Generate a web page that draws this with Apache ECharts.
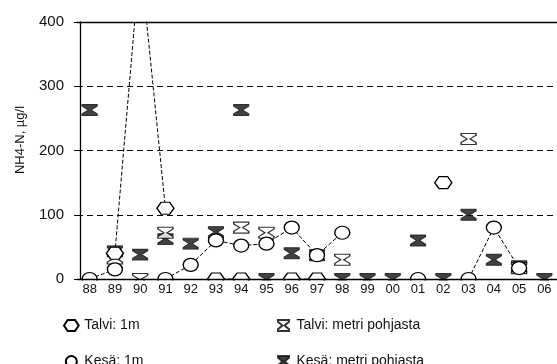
<!DOCTYPE html>
<html><head><meta charset="utf-8">
<script src="https://cdn.jsdelivr.net/npm/echarts@6/dist/echarts.min.js"></script>
<style>html,body{margin:0;padding:0;background:#fff}#c{width:557px;height:364px}</style>
</head><body><div id="c"></div>
<script>
// ---- data ----
const years = ['88','89','90','91','92','93','94','95','96','97','98','99','00','01','02','03','04','05','06'];
const yTicks = [0, 100, 200, 300, 400];
const talvi1m      = [null, 40, 500, 110, null, 0, 0, null, 0, 0, null, null, null, null, 150, null, null, null, null];
const kesa1m       = [0, 15, null, 0, 22, 60, 52, 55, 80, 37, 72, null, null, 0, null, 0, 80, 17, null];
const talviPohja   = [null, 32, 0, 72, null, null, 80, 72, null, null, 30, null, null, null, null, 218, null, 17, null];
const kesaPohja    = [263, 43, 38, 62, 55, 73, 263, 0, 40, 37, 0, 0, 0, 60, 0, 100, 30, 20, 0];
const names = ['Talvi: 1m', 'Kesä: 1m', 'Talvi: metri pohjasta', 'Kesä: metri pohjasta'];
const yName = 'NH4-N, µg/l';

// ---- styling ----
const HEX = 'path://M0,6 L4,0 L12,0 L16,6 L12,12 L4,12 Z';
const HOUR = 'path://M0,0 L12,0 L12,2 L7.2,6 L12,10 L12,12 L0,12 L0,10 L4.8,6 L0,2 Z';
const font = 'Liberation Sans, Arial, sans-serif';
const dashed = { type: 'dashed', color: '#000', width: 1 };
const openStyle = { color: '#fff', borderColor: '#000', borderWidth: 1.3 };
const fillStyle = { color: '#111', borderColor: '#111', borderWidth: 1 };
const legendBase = {
  orient: 'vertical', top: 318.5, padding: 0, height: 60, itemWidth: 16, itemHeight: 11, itemGap: 22,
  textStyle: { fontSize: 14, color: '#111', fontFamily: font }
};

const chart = echarts.init(document.getElementById('c'), null, { renderer: 'canvas' });
chart.setOption({
  animation: false,
  backgroundColor: '#fff',
  textStyle: { fontFamily: font, color: '#111' },
  grid: { left: 77, top: 22, bottom: 85, right: -3.4, containLabel: false },
  xAxis: [{
    type: 'category', data: years, boundaryGap: true, z: 60,
    axisLine: { lineStyle: { color: '#000', width: 1.3 } },
    axisTick: { alignWithLabel: true, length: 5, lineStyle: { color: '#000' } },
    axisLabel: { color: '#111', fontSize: 13, margin: 4, interval: 0, fontFamily: font },
    splitLine: { show: false }
  }, {
    type: 'category', data: years, position: 'top', z: 60,
    axisLine: { show: true, lineStyle: { color: '#000', width: 1.3 } },
    axisTick: { show: false }, axisLabel: { show: false }
  }],
  yAxis: {
    type: 'value', min: yTicks[0], max: yTicks[yTicks.length - 1], interval: 100, offset: -3,
    axisLine: { show: true, lineStyle: { color: '#000', width: 1.3 } },
    axisTick: { show: true, length: 6, lineStyle: { color: '#000' } },
    axisLabel: { color: '#111', fontSize: 15, margin: 16, fontFamily: font },
    splitLine: { show: true, lineStyle: { color: '#000', width: 1, type: [6, 4] } }
  },
  legend: [Object.assign({}, legendBase, {
    left: 63,
    data: [{ name: names[0], icon: HEX }, { name: names[1], icon: 'circle' }]
  }), Object.assign({}, legendBase, {
    left: 277,
    data: [{ name: names[2], icon: HOUR }, { name: names[3], icon: HOUR }]
  })],
  graphic: [{
    type: 'rect', z: 50, silent: true,
    shape: { x: 77, y: 280.5, width: 480, height: 9 },
    style: { fill: '#fff' }
  }, {
    type: 'text', z: 50, x: 20, y: 140, rotation: Math.PI / 2,
    style: { text: yName, fontSize: 13, fontFamily: font, fill: '#111', align: 'center', verticalAlign: 'middle' }
  }],
  series: [{
    name: names[3], type: 'scatter', data: kesaPohja, z: 3,
    symbol: HOUR, symbolSize: [15, 11], itemStyle: fillStyle
  }, {
    name: names[2], type: 'scatter', data: talviPohja, z: 4,
    symbol: HOUR, symbolSize: [15, 11], itemStyle: openStyle
  }, {
    name: names[1], type: 'line', data: kesa1m, z: 5, connectNulls: false, clip: true,
    symbol: 'circle', symbolSize: [15, 13], showAllSymbol: true,
    lineStyle: dashed, itemStyle: openStyle
  }, {
    name: names[0], type: 'line', data: talvi1m, z: 5, connectNulls: false, clip: true,
    symbol: HEX, symbolSize: [17, 12], showAllSymbol: true,
    lineStyle: dashed, itemStyle: openStyle
  }]
});
</script></body></html>
